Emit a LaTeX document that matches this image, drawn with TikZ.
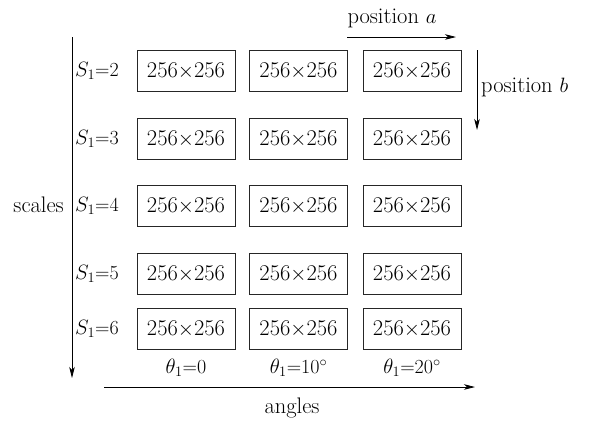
\documentclass[tikz,border=0pt]{standalone}
\usetikzlibrary{arrows.meta}
\begin{document}
\begin{tikzpicture}[x=1pt,y=-1pt,
  every node/.style={font=\fontsize{22.5}{26}\selectfont, inner sep=0pt},
  small/.style={font=\fontsize{20}{24}\selectfont},
  cell/.style={draw, line width=0.9pt, draw=black!85, minimum width=98pt, minimum height=41pt},
  lab/.style={anchor=west, small},
  arr/.style={line width=0.8pt, -{Stealth[length=11pt,width=5.5pt,inset=3pt]}}]
\useasboundingbox (0,0) rectangle (592,421);
% rows
\foreach \r/\y/\s in {1/70.5/2, 2/138.5/3, 3/205.5/4, 4/273.5/5, 5/328.5/6}{
  \node[lab] (s\r) at (75,\y) {$S_1$=\s};
  \node[cell] (b\r1) at (186,\y) {256$\times$256};
  \node[cell] (b\r2) at (298.5,\y) {256$\times$256};
  \node[cell] (b\r3) at (412,\y) {256$\times$256};
}
% angle labels
\node[small] (t1) at (186,368) {$\theta_1$=0};
\node[small] (t2) at (298.5,368) {$\theta_1$=10$^\circ$};
\node[small] (t3) at (412,368) {$\theta_1$=20$^\circ$};
% scales arrow
\coordinate (sc0) at (72,37);
\coordinate (sc1) at (72,378);
\draw[arr] (sc0) -- (sc1);
\node[anchor=east] (scales) at (64,205) {scales};
% angles arrow
\coordinate (an0) at (104,387);
\coordinate (an1) at (475,387);
\draw[arr] (an0) -- (an1);
\node (angles) at (292,408) {angles};
% position a
\coordinate (pa0) at (347,37);
\coordinate (pa1) at (456,37);
\draw[arr] (pa0) -- (pa1);
\node (posa) at (392,18) {position $a$};
% position b
\coordinate (pb0) at (477,50);
\coordinate (pb1) at (477,130);
\draw[arr] (pb0) -- (pb1);
\node[anchor=west] (posb) at (481,87) {position $b$};
\end{tikzpicture}
\end{document}
